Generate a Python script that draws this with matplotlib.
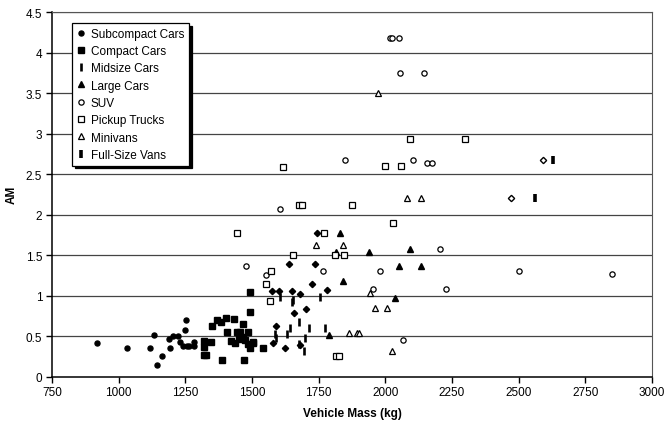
import matplotlib
matplotlib.use("Agg")
import matplotlib.pyplot as plt

plt.rcParams["font.family"] = ["Liberation Sans", "DejaVu Sans"]

# values (vehicle mass in kg, AM)
subcompact_x = [918, 1031, 1119, 1131, 1145, 1164, 1194, 1190, 1205, 1221, 1229, 1248, 1252, 1241, 1255, 1265, 1282, 1282]
subcompact_y = [0.42, 0.35, 0.35, 0.51, 0.15, 0.26, 0.35, 0.47, 0.50, 0.50, 0.43, 0.58, 0.70, 0.38, 0.38, 0.38, 0.43, 0.38]

compact_x = [1320, 1320, 1320, 1328, 1347, 1352, 1368, 1385, 1401, 1389, 1405, 1420, 1432, 1437, 1443,
             1455, 1452, 1467, 1474, 1466, 1471, 1486, 1486, 1492, 1505, 1492, 1492, 1540, 1505]
compact_y = [0.44, 0.37, 0.27, 0.27, 0.43, 0.62, 0.70, 0.67, 0.73, 0.20, 0.55, 0.44, 0.71, 0.42, 0.55,
             0.55, 0.47, 0.49, 0.45, 0.65, 0.20, 0.55, 0.40, 0.36, 0.43, 0.80, 1.04, 0.36, 0.41]

midsize_x = [1606, 1649, 1655, 1755, 1675, 1642, 1712, 1775, 1586, 1630, 1590, 1699, 1696, 1676]
midsize_y = [0.98, 0.92, 0.95, 0.98, 0.67, 0.60, 0.60, 0.60, 0.53, 0.53, 0.475, 0.475, 0.32, 0.40]

large_x = [1831, 1815, 1938, 2093, 2050, 2135, 1842, 2037, 1788]
large_y = [1.77, 1.535, 1.535, 1.58, 1.36, 1.36, 1.18, 0.97, 0.51]

suv_x = [2017, 2025, 2052, 2054, 2146, 1849, 2105, 2155, 2175, 1605, 2205, 1768, 1981, 1952,
         2226, 2065, 1552, 1476, 2501, 2850]
suv_y = [4.18, 4.18, 4.18, 3.745, 3.745, 2.68, 2.68, 2.64, 2.64, 2.07, 1.58, 1.30, 1.30, 1.08,
         1.08, 0.45, 1.255, 1.37, 1.305, 1.264]

pickup_x = [1616, 1999, 2057, 2093, 2298, 1676, 1687, 1876, 2030, 1770, 1652, 1810, 1844,
            1570, 1551, 1566, 1816, 1827, 1445]
pickup_y = [2.59, 2.60, 2.60, 2.93, 2.93, 2.12, 2.12, 2.12, 1.90, 1.77, 1.50, 1.50, 1.50,
            1.31, 1.14, 0.93, 0.26, 0.26, 1.775]

minivan_x = [1974, 2082, 2134, 1739, 1841, 1942, 1962, 2005, 1865, 1895, 1901, 2026]
minivan_y = [3.50, 2.20, 2.20, 1.63, 1.63, 1.03, 0.85, 0.85, 0.54, 0.54, 0.54, 0.32]

fullvan_x = [2561, 2627]
fullvan_y = [2.21, 2.67]

# diamond markers that have no legend entry
diamond_x = [1742, 1638, 1737, 1724, 1780, 1575, 1602, 1650, 1679, 1701, 1656, 1590, 1578, 1624, 1680]
diamond_y = [1.77, 1.39, 1.39, 1.14, 1.07, 1.06, 1.06, 1.06, 1.025, 0.835, 0.78, 0.63, 0.41, 0.36, 0.39]
open_diamond_x = [2471, 2592]
open_diamond_y = [2.21, 2.67]

x_ticks = [750, 1000, 1250, 1500, 1750, 2000, 2250, 2500, 2750, 3000]
y_ticks = [0, 0.5, 1, 1.5, 2, 2.5, 3, 3.5, 4, 4.5]
y_tick_labels = ["0", "0.5", "1", "1.5", "2", "2.5", "3", "3.5", "4", "4.5"]

fig = plt.figure(figsize=(6.66, 4.27), dpi=100)
ax = fig.add_axes([0.078, 0.1155, 0.901, 0.854])

for y in y_ticks[1:]:
    ax.axhline(y, color="#444444", lw=0.9, zorder=0)

ax.plot(subcompact_x, subcompact_y, "o", color="black", ms=3.6, ls="none", label="Subcompact Cars")
ax.plot(compact_x, compact_y, "s", color="black", ms=4.4, ls="none", label="Compact Cars")
ax.plot(midsize_x, midsize_y, "|", color="black", ms=5.5, mew=1.9, ls="none", label="Midsize Cars")
ax.plot(large_x, large_y, "^", color="black", ms=4.2, ls="none", label="Large Cars")
ax.plot(suv_x, suv_y, "o", mfc="white", mec="black", mew=0.9, ms=3.8, ls="none", label="SUV")
ax.plot(pickup_x, pickup_y, "s", mfc="white", mec="black", mew=0.9, ms=4.4, ls="none", label="Pickup Trucks")
ax.plot(minivan_x, minivan_y, "^", mfc="white", mec="black", mew=0.9, ms=4.4, ls="none", label="Minivans")
ax.plot(fullvan_x, fullvan_y, "|", color="black", ms=5.5, mew=2.6, ls="none", label="Full-Size Vans")
ax.plot(diamond_x, diamond_y, "D", color="black", ms=3.2, ls="none")
ax.plot(open_diamond_x, open_diamond_y, "D", mfc="white", mec="black", mew=1.0, ms=3.2, ls="none")

ax.set_xlim(750, 3000)
ax.set_ylim(0, 4.5)
ax.set_xticks(x_ticks)
ax.set_yticks(y_ticks)
ax.set_yticklabels(y_tick_labels)
ax.tick_params(direction="out", length=4, width=1, labelsize=8.5, pad=3, color="black")

ax.spines["left"].set_linewidth(1.1)
ax.spines["bottom"].set_linewidth(1.1)
ax.spines["top"].set_color("#555555")
ax.spines["right"].set_color("#555555")

ax.set_xlabel("Vehicle Mass (kg)", fontsize=8.5, fontweight="bold", labelpad=6)
ax.set_ylabel("AM", fontsize=8.5, fontweight="bold", labelpad=6)

leg = ax.legend(loc="upper left", bbox_to_anchor=(0.033, 0.97), borderaxespad=0,
                fontsize=8.5, frameon=True, fancybox=False, edgecolor="black",
                framealpha=1, handlelength=0.8, handletextpad=0.4, labelspacing=0.45,
                borderpad=0.4, shadow={"color": "black", "alpha": 1})
leg.get_frame().set_linewidth(0.9)

fig.savefig("out.png", dpi=100)
